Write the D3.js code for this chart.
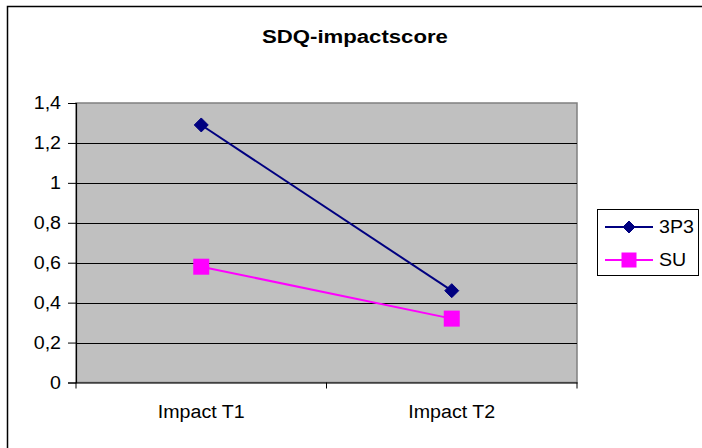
<!DOCTYPE html>
<html>
<head>
<meta charset="utf-8">
<script src="https://cdn.jsdelivr.net/npm/d3@7"></script>
<style>
  html, body { margin: 0; padding: 0; background: #fff; }
  svg { display: block; }
  text { font-family: "Liberation Sans", Arial, sans-serif; fill: #000; }
</style>
</head>
<body>
<svg id="chart" width="702" height="448"></svg>
<script>
// Chart data
const chartTitle = "SDQ-impactscore";
const categories = ["Impact T1", "Impact T2"];
const seriesNames = ["3P3", "SU"];
const values3P3 = [1.29, 0.46];
const valuesSU = [0.58, 0.32];
const yTicks = [0, 0.2, 0.4, 0.6, 0.8, 1, 1.2, 1.4];
const seriesColors = ["#000080", "#FF00FF"];
const seriesShapes = ["diamond", "square"];

const series = seriesNames.map((name, i) => ({
  name,
  color: seriesColors[i],
  shape: seriesShapes[i],
  values: [values3P3, valuesSU][i]
}));

const svg = d3.select("#chart");
const plot = { left: 76, right: 577, top: 103, bottom: 382.5 };
const fontSize = "18px";

// Outer chart frame (runs off the right and bottom of the canvas)
svg.append("rect")
  .attr("x", 7.5).attr("y", 6.5)
  .attr("width", 760).attr("height", 500)
  .attr("fill", "#fff").attr("stroke", "#000").attr("stroke-width", 1.5);

const x = d3.scaleBand().domain(categories).range([plot.left, plot.right]).paddingInner(0).paddingOuter(0);
const y = d3.scaleLinear().domain([0, 1.4]).range([plot.bottom, plot.top]);

// Plot area
svg.append("rect")
  .attr("x", plot.left).attr("y", plot.top)
  .attr("width", plot.right - plot.left).attr("height", plot.bottom - plot.top)
  .attr("fill", "#C0C0C0").attr("stroke", "#808080").attr("stroke-width", 1.5);

// Horizontal gridlines
svg.append("g").selectAll("line")
  .data(yTicks.filter(t => t > 0 && t < 1.4))
  .join("line")
  .attr("x1", plot.left).attr("x2", plot.right)
  .attr("y1", d => Math.round(y(d)) + 0.5).attr("y2", d => Math.round(y(d)) + 0.5)
  .attr("stroke", "#000").attr("stroke-width", 1);

// Y axis
const fmt = d => d3.format("~g")(d).replace(".", ",");
const yAxis = svg.append("g")
  .attr("transform", `translate(${plot.left},0)`)
  .call(d3.axisLeft(y).tickValues(yTicks).tickFormat(fmt).tickSize(8).tickPadding(7));
yAxis.select(".domain").attr("stroke", "#000").attr("stroke-width", 1.2);
yAxis.selectAll(".tick line").attr("stroke", "#000");
yAxis.selectAll("text").attr("class", "wide").style("font-size", fontSize).attr("font-family", null);

// X axis with ticks at category boundaries
const xAxis = svg.append("g")
  .attr("transform", `translate(0,${plot.bottom})`)
  .call(d3.axisBottom(x).tickSize(0).tickPadding(23));
xAxis.select(".domain").attr("stroke", "#000").attr("stroke-width", 1.2);
xAxis.selectAll("text").attr("class", "wide").style("font-size", fontSize).attr("font-family", null);
xAxis.selectAll(".boundary")
  .data([plot.left, ...categories.map(c => x(c) + x.bandwidth())])
  .join("line")
  .attr("x1", d => d).attr("x2", d => d)
  .attr("y1", 0).attr("y2", 6)
  .attr("stroke", "#000");

// Title
svg.append("text")
  .attr("class", "title")
  .attr("x", 355).attr("y", 43)
  .attr("text-anchor", "middle")
  .style("font-size", fontSize).style("font-weight", "bold")
  .text(chartTitle);

// Marker shapes
function marker(g, shape, color, size) {
  if (shape === "diamond") {
    g.append("path")
      .attr("d", `M0,${-size}L${size},0L0,${size}L${-size},0Z`)
      .attr("fill", color).attr("stroke", color).attr("stroke-width", 1);
  } else {
    g.append("rect")
      .attr("x", -size).attr("y", -size)
      .attr("width", size * 2).attr("height", size * 2)
      .attr("fill", color);
  }
}

// Series lines and markers
const line = d3.line()
  .x((d, i) => x(categories[i]) + x.bandwidth() / 2)
  .y(d => y(d));

series.forEach(s => {
  svg.append("path")
    .attr("d", line(s.values))
    .attr("fill", "none").attr("stroke", s.color).attr("stroke-width", 2);
  s.values.forEach((v, i) => {
    const g = svg.append("g")
      .attr("transform", `translate(${x(categories[i]) + x.bandwidth() / 2},${y(v)})`);
    marker(g, s.shape, s.color, s.shape === "diamond" ? 7 : 8);
  });
});

// Legend
const legend = svg.append("g");
legend.append("rect")
  .attr("x", 597.5).attr("y", 209.5).attr("width", 101).attr("height", 66)
  .attr("fill", "#fff").attr("stroke", "#000").attr("stroke-width", 1);
series.forEach((s, i) => {
  const ly = 227 + i * 33;
  const g = legend.append("g").attr("transform", `translate(0,${ly})`);
  g.append("line").attr("x1", 605).attr("x2", 653).attr("y1", 0).attr("y2", 0)
    .attr("stroke", s.color).attr("stroke-width", 2);
  const m = g.append("g").attr("transform", "translate(629,0)");
  marker(m, s.shape, s.color, s.shape === "diamond" ? 6 : 7.5);
  g.append("text").attr("class", "wide").attr("x", 659).attr("y", 0).attr("dy", "0.35em")
    .style("font-size", fontSize).text(s.name);
});

// The chart's lettering is set wide: stretch glyphs horizontally
function stretch(sel, factor) {
  sel.each(function () {
    const w = this.getComputedTextLength();
    d3.select(this).attr("textLength", w * factor).attr("lengthAdjust", "spacingAndGlyphs");
  });
}
stretch(svg.selectAll("text.wide"), 1.09);
stretch(svg.selectAll("text.title"), 1.23);
</script>
</body>
</html>
